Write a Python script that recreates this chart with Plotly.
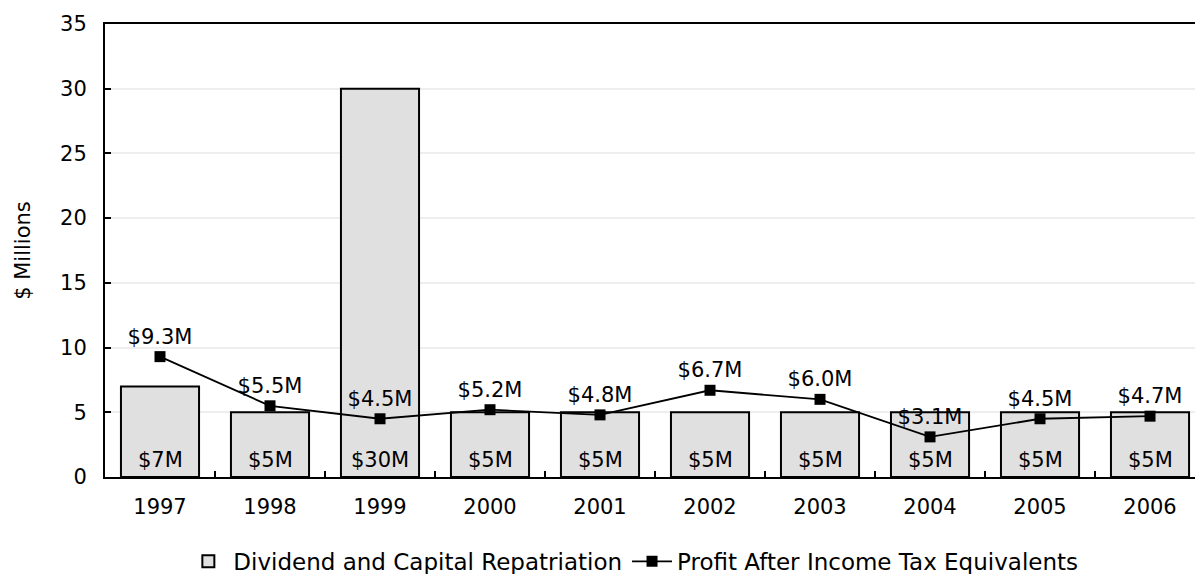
import plotly.graph_objects as go

years = ["1997", "1998", "1999", "2000", "2001", "2002", "2003", "2004", "2005", "2006"]
repatriation = [7, 5, 30, 5, 5, 5, 5, 5, 5, 5]
profit = [9.3, 5.5, 4.5, 5.2, 4.8, 6.7, 6.0, 3.1, 4.5, 4.7]
y_ticks = [0, 5, 10, 15, 20, 25, 30, 35]

FONT = "DejaVu Sans"
SIZE = 21

fig = go.Figure()

fig.add_trace(go.Bar(
    x=years,
    y=repatriation,
    name="Dividend and Capital Repatriation",
    width=0.71,
    marker=dict(color="#e0e0e0", line=dict(color="black", width=2)),
))

fig.add_trace(go.Scatter(
    x=years,
    y=profit,
    name="Profit After Income Tax Equivalents",
    mode="lines+markers+text",
    line=dict(color="black", width=1.8),
    marker=dict(symbol="square", size=11, color="black"),
    text=[f"${v:.1f}M" for v in profit],
    textposition="top center",
    textfont=dict(family=FONT, size=SIZE, color="black"),
    cliponaxis=False,
))

# value labels sitting at the base of each bar (category index positions)
for i, v in enumerate(repatriation):
    fig.add_annotation(
        x=i, y=0, xref="x", yref="y", text=f"${v}M", showarrow=False,
        yanchor="bottom", yshift=3,
        font=dict(family=FONT, size=SIZE, color="black"),
    )

fig.update_layout(
    width=1195,
    height=574,
    margin=dict(l=105, r=0, t=24, b=97),
    paper_bgcolor="white",
    plot_bgcolor="white",
    font=dict(family=FONT, size=SIZE, color="black"),
    showlegend=True,
    legend=dict(
        orientation="h",
        xref="container",
        yref="container",
        x=0.53,
        y=0.022,
        xanchor="center",
        yanchor="middle",
        font=dict(family=FONT, size=23, color="black"),
        itemwidth=40,
        traceorder="normal",
    ),
    xaxis=dict(
        type="category",
        range=[-0.5, 9.409],
        showline=True,
        linecolor="black",
        linewidth=2,
        mirror=True,
        ticks="inside",
        tickson="boundaries",
        ticklen=6,
        tickcolor="black",
        tickwidth=2,
        showgrid=False,
        ticklabelstandoff=10,
        tickfont=dict(family=FONT, size=SIZE),
    ),
    yaxis=dict(
        range=[0, 35],
        tickvals=y_ticks,
        showline=True,
        linecolor="black",
        linewidth=2,
        ticks="inside",
        ticklen=6,
        tickcolor="black",
        tickwidth=2,
        showgrid=True,
        gridcolor="#eeeeee",
        gridwidth=2,
        zeroline=False,
        ticklabelstandoff=12,
        tickfont=dict(family=FONT, size=SIZE),
        title=dict(text="$ Millions", font=dict(family=FONT, size=SIZE), standoff=24),
    ),
)

fig.write_html("out.html")
